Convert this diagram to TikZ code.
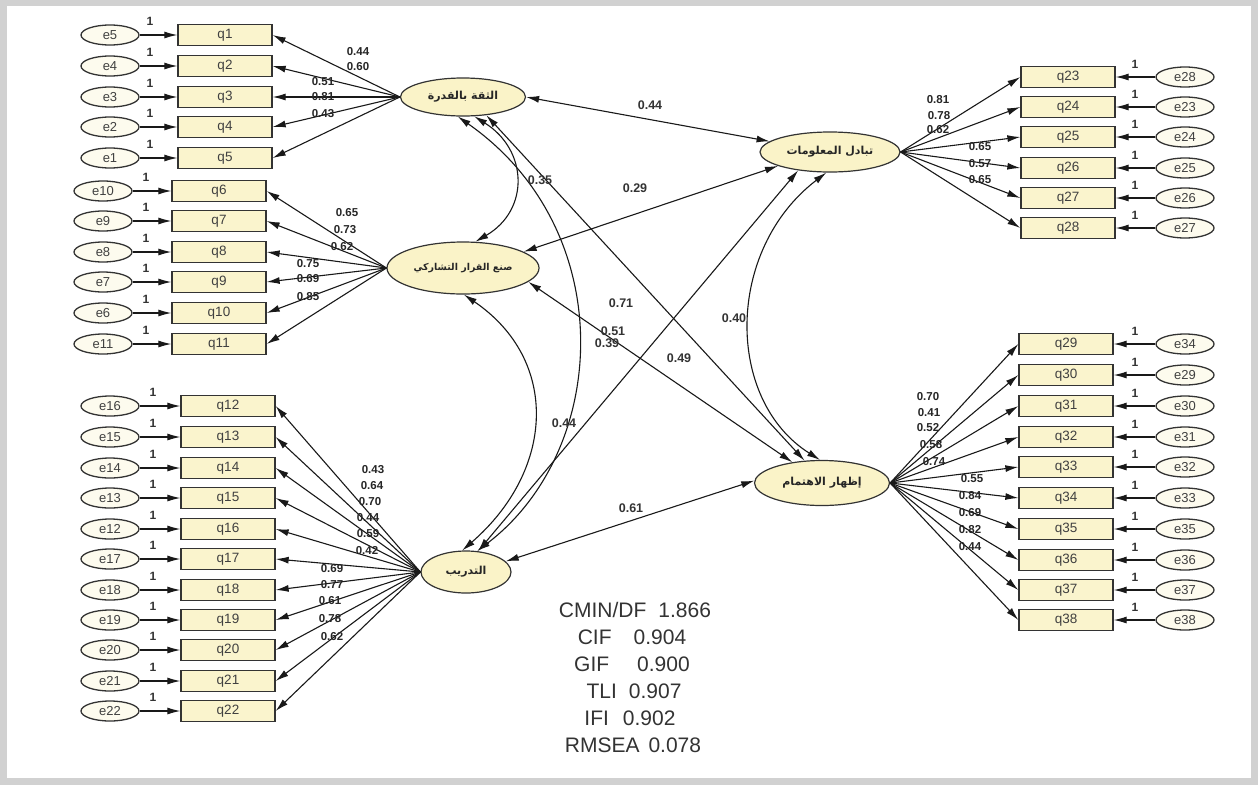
\documentclass[tikz,border=0pt]{standalone}
\usepackage{fontspec}
\setmainfont{Liberation Sans}
\newfontfamily\arabicfont[Script=Arabic]{DejaVu Sans}
\TeXXeTstate=1
\usetikzlibrary{arrows.meta,shapes.geometric}
\definecolor{boxy}{RGB}{250,244,205}
\definecolor{laty}{RGB}{250,243,200}
\definecolor{erry}{RGB}{253,251,238}
\begin{document}
\begin{tikzpicture}[x=1pt,y=-1pt,
  ind/.style={draw=black!80,fill=boxy,minimum width=94pt,minimum height=21pt,inner sep=0pt,font=\fontsize{13.5}{13.5}\selectfont,text=black!75,line width=1.3pt},
  err/.style={ellipse,draw=black!80,fill=erry,minimum width=58pt,minimum height=20pt,inner sep=0pt,font=\fontsize{13}{13}\selectfont,text=black!75,line width=1.3pt},
  lat/.style={ellipse,draw=black!80,fill=laty,inner sep=0pt,font=\arabicfont\bfseries\fontsize{11}{11}\selectfont,text=black!85,line width=1.2pt},
  arr/.style={-{Latex[length=13pt,width=7pt]},line width=1.1pt,draw=black!90},
  darr/.style={{Latex[length=13pt,width=7pt]}-{Latex[length=13pt,width=7pt]},line width=1.1pt,draw=black!90},
  ld/.style={font=\bfseries\fontsize{11.5}{11.5}\selectfont,inner sep=0pt,text=black!85},
  cl/.style={font=\bfseries\fontsize{12}{12}\selectfont,inner sep=0pt,text=black!80},
  st/.style={font=\fontsize{21}{21}\selectfont,inner sep=0pt,text=black!80}
]
\useasboundingbox (0,0) rectangle (1258,785);
\fill[black!18] (0,0) rectangle (1258,785);
\fill[white] (7,6) rectangle (1251,778);

% latent variables
\node[lat,minimum width=125pt,minimum height=38pt] (F1) at (463,97) {\beginR الثقة بالقدرة\endR};
\node[lat,minimum width=152pt,minimum height=52pt,font=\arabicfont\bfseries\fontsize{9.5}{9.5}\selectfont] (F2) at (463,268) {\beginR صنع القرار التشاركي\endR};
\node[lat,minimum width=140pt,minimum height=40pt] (F3) at (830,152) {\beginR تبادل المعلومات\endR};
\node[lat,minimum width=135pt,minimum height=45pt] (F4) at (822,483) {\beginR إظهار الاهتمام\endR};
\node[lat,minimum width=90pt,minimum height=42pt] (F5) at (466,572) {\beginR التدريب\endR};

% group 1
\foreach \i/\e/\y in {1/5/35,2/4/66,3/3/97,4/2/127,5/1/158}{
  \node[ind] (q\i) at (225,\y) {q\i};
  \node[err] (e\e) at (110,\y) {e\e};
  \draw[arr] (e\e) -- (q\i);
  \node[cl] at (150,\y-14) {1};
  \draw[arr] (F1.west) -- (q\i.east);
}
% group 2
\foreach \i/\e/\y in {6/10/191,7/9/221,8/8/252,9/7/282,10/6/313,11/11/344}{
  \node[ind] (q\i) at (219,\y) {q\i};
  \node[err] (e\e) at (103,\y) {e\e};
  \draw[arr] (e\e) -- (q\i);
  \node[cl] at (146,\y-14) {1};
  \draw[arr] (F2.west) -- (q\i.east);
}
% group 3
\foreach \i/\e/\y in {12/16/406,13/15/437,14/14/468,15/13/498,16/12/529,17/17/559,18/18/590,19/19/620,20/20/650,21/21/681,22/22/711}{
  \node[ind] (q\i) at (228,\y) {q\i};
  \node[err] (e\e) at (110,\y) {e\e};
  \draw[arr] (e\e) -- (q\i);
  \node[cl] at (153,\y-14) {1};
  \draw[arr] (F5.west) -- (q\i.east);
}
% right group 1
\foreach \i/\e/\y in {23/28/77,24/23/107,25/24/137,26/25/168,27/26/198,28/27/228}{
  \node[ind] (q\i) at (1068,\y) {q\i};
  \node[err] (e\e) at (1185,\y) {e\e};
  \draw[arr] (e\e) -- (q\i);
  \node[cl] at (1135,\y-13) {1};
  \draw[arr] (F3.east) -- (q\i.west);
}
% right group 2
\foreach \i/\e/\y in {29/34/344,30/29/375,31/30/406,32/31/437,33/32/467,34/33/498,35/35/529,36/36/560,37/37/590,38/38/620}{
  \node[ind] (q\i) at (1066,\y) {q\i};
  \node[err] (e\e) at (1185,\y) {e\e};
  \draw[arr] (e\e) -- (q\i);
  \node[cl] at (1135,\y-13) {1};
  \draw[arr] (F4.east) -- (q\i.west);
}

% loadings
\foreach \t/\x/\y in {0.44/358/52,0.60/358/67,0.51/323/82,0.81/323/97,0.43/323/114}{\node[ld] at (\x,\y) {\t};}
\foreach \t/\x/\y in {0.65/347/213,0.73/345/230,0.62/342/247,0.75/308/264,0.69/308/279,0.85/308/297}{\node[ld] at (\x,\y) {\t};}
\foreach \t/\x/\y in {0.43/373/470,0.64/372/486,0.70/370/502,0.44/368/518,0.59/368/534,0.42/367/551,0.69/332/569,0.77/332/585,0.61/330/601,0.78/330/619,0.62/332/637}{\node[ld] at (\x,\y) {\t};}
\foreach \t/\x/\y in {0.81/938/100,0.78/939/116,0.62/938/130,0.65/980/147,0.57/980/164,0.65/980/180}{\node[ld] at (\x,\y) {\t};}
\foreach \t/\x/\y in {0.70/928/397,0.41/929/413,0.52/928/428,0.58/931/445,0.74/934/462,0.55/972/479,0.84/970/496,0.69/970/513,0.82/970/530,0.44/970/547}{\node[ld] at (\x,\y) {\t};}

% correlations
\draw[darr] (F1.east) -- (F3.170);
\draw[darr] (F1.-60) .. controls (528,150) and (530,210) .. (F2.65);
\draw[darr] (F1.-105) .. controls (620,230) and (610,450) .. (F5.62);
\draw[darr] (F1.-38) -- (F4.128);
\draw[darr] (F2.15) -- (F3.195);
\draw[darr] (F2.-12) -- (F4.145);
\draw[darr] (F2.-88) .. controls (560,360) and (555,470) .. (F5.100);
\draw[darr] (F3.-100) .. controls (725,250) and (725,400) .. (F4.95);
\draw[darr] (F3.-150) -- (F5.60);
\draw[darr] (F4.178) -- (F5.15);

\foreach \t/\x/\y in {0.44/650/105,0.35/540/180,0.29/635/188,0.71/621/303,0.51/613/331,0.39/607/343,0.49/679/358,0.40/734/318,0.44/564/423,0.61/631/508}{\node[cl,font=\bfseries\fontsize{12.5}{12.5}\selectfont] at (\x,\y) {\t};}

% fit indices
\node[st] (s1) at (635,610) {CMIN/DF\hspace{12pt}1.866};
\node[st] (s2) at (632,637) {CIF\hspace{22pt}0.904};
\node[st] (s3) at (632,664) {GIF\hspace{28pt}0.900};
\node[st] (s4) at (634,691) {TLI\hspace{12pt}0.907};
\node[st] (s5) at (630,718) {IFI\hspace{14pt}0.902};
\node[st] (s6) at (633,745) {RMSEA\hspace{9pt}0.078};
\end{tikzpicture}
\end{document}
